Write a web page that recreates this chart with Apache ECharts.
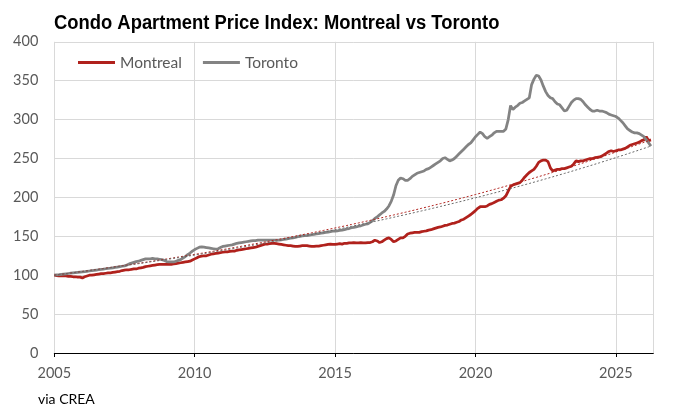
<!DOCTYPE html>
<html>
<head>
<meta charset="utf-8">
<script src="https://cdn.jsdelivr.net/npm/echarts@6/dist/echarts.min.js"></script>
<style>
html,body{margin:0;padding:0;background:#fff;}
#c{width:674px;height:417px;}
</style>
</head>
<body>
<div id="c"></div>
<script>
// Monthly index values, Jan 2005 .. Apr 2026
const startYear = 2005;
const montreal = [
  100, 99.5, 99, 99.5, 99, 99, 98.5, 98.5, 98, 98, 97.5, 97.5,
  96.5, 98, 99, 100, 100, 100.5, 101, 101.5, 102, 102, 102.5, 103,
  103, 103.5, 104, 104.5, 105, 106, 106.5, 107, 107, 107.5, 108, 108,
  109, 109.5, 110, 111, 111.5, 112, 112.5, 113, 113.5, 114, 114, 114,
  114, 114, 114, 114.5, 115, 115.5, 116, 116.5, 117, 117.5, 118, 119.5,
  121, 122.5, 124, 124.5, 125, 125, 126, 127, 127.5, 128, 128.5, 129,
  129.5, 130, 130, 130.5, 131, 131, 132, 132.5, 133, 133.5, 134, 134.5,
  135, 135.5, 136, 137, 138, 139, 140, 140, 140.5, 141, 141, 140.5,
  140, 139.5, 139, 138.5, 138, 138, 137.5, 137, 137, 137.5, 138, 138,
  138, 137.5, 137, 137, 137.5, 137.5, 138, 138.5, 139, 139.5, 140, 139.5,
  139.5, 140, 140.5, 140, 141, 141, 141.5, 141.5, 142, 141.5, 141.5, 142,
  141.5, 141.5, 142, 142, 143, 145, 144, 142, 143, 145, 147, 148,
  146, 143, 144, 146, 148, 148, 150, 153, 154, 154.5, 155, 155,
  155, 156, 156.5, 157, 158, 158.5, 159.5, 160.5, 161.5, 162, 163, 164,
  164.5, 165.5, 166.5, 167, 168, 169, 171, 172, 174, 176, 178, 180.5,
  183, 186, 188, 188, 188, 189, 191, 192, 193.5, 195, 196.5, 197,
  199, 202, 208, 214, 216, 217, 218, 219, 222, 226, 229, 232,
  234, 236, 240, 245, 247, 248, 248, 246, 238, 234, 235, 236,
  236, 237, 237, 238, 239, 240, 243, 247, 246, 247, 247, 248,
  249, 250, 250, 251, 251.5, 252, 253, 255, 257, 259, 260, 259,
  260, 261, 261, 262, 263, 265, 267, 268, 269, 270, 271, 273,
  274, 278, 273, 274
];
const toronto = [
  100, 100.3, 100.6, 101, 101.4, 101.8, 102.2, 102.6, 103, 103.4, 103.7, 104,
  104.3, 104.6, 105, 105.4, 105.8, 106.2, 106.6, 107, 107.4, 107.8, 108.3, 108.8,
  109, 109.5, 110, 110.5, 111, 111.5, 112, 113, 114.5, 115.5, 116.5, 117.5,
  118, 119, 120, 121, 121, 121, 121.5, 121, 121, 120.5, 120, 119,
  117.5, 117, 117, 117, 118, 119, 120, 122, 124, 126.5, 128.5, 131,
  133, 134.5, 136, 136.5, 136, 135.5, 135, 134.5, 134, 133.5, 134, 135.5,
  137, 137.5, 138, 138.5, 139, 140, 141, 141.5, 142, 142.5, 143, 143.5,
  144, 144.5, 144.5, 145, 145, 145, 145, 145, 145, 145, 145, 145,
  145, 145.5, 146, 146.5, 147, 147.5, 148, 148.5, 149.5, 150, 150.5, 151,
  151, 151.5, 152, 152.5, 153, 153.5, 154, 154.5, 155, 155.5, 156, 156.5,
  156.6, 157, 157.5, 158, 158.5, 159.5, 160, 161, 161.5, 162, 163, 163.5,
  164.5, 165.5, 166, 168, 170, 173, 175, 177.5, 180, 182, 185, 189,
  195, 203, 215, 222, 225, 224, 222, 222, 224, 227, 229, 231,
  232, 233, 234, 236, 237, 239, 241, 243, 245, 247, 250, 251,
  249, 247, 248, 250, 253, 256, 259, 262, 265, 268, 270, 274,
  278, 281, 284, 282, 278, 276, 278, 280, 283, 285, 285, 285,
  285, 288, 300, 318, 313, 316, 318, 321, 322, 324, 326, 328,
  345, 352, 357, 356, 351, 343, 336, 331, 328, 327, 323, 320,
  319, 315, 311, 312, 317, 322, 325, 327, 327, 326, 323, 319,
  316, 313, 311, 311, 312, 311, 311, 310, 309, 307, 306, 305,
  304, 302, 299, 296, 292, 288, 286, 284, 283, 283, 282, 280,
  278, 274, 270, 266
];
const seriesNames = ['Montreal', 'Toronto'];
const xTickYears = [2005, 2010, 2015, 2020, 2025];
const yTicks = [0, 50, 100, 150, 200, 250, 300, 350, 400];

function toPoints(arr) {
  return arr.map((v, i) => [startYear + i / 12, v]);
}
// constant-growth line from first to last value
function growthLine(arr) {
  const n = arr.length, a = arr[0], b = arr[n - 1];
  return arr.map((_, i) => [startYear + i / 12, a * Math.pow(b / a, i / (n - 1))]);
}

const RED = '#B0211C', GREY = '#838383';
const chart = echarts.init(document.getElementById('c'), null, {renderer: 'canvas'});
const labelFont = 'Lato, "Open Sans", sans-serif';
chart.setOption({
  animation: false,
  graphic: [{
    type: 'text', x: 54, y: 13, scaleX: 0.92,
    style: {text: 'Condo Apartment Price Index: Montreal vs Toronto',
      font: 'bold 20px "Liberation Sans", Arial, sans-serif', fill: '#000'}
  }, {
    type: 'text', left: 38, top: 392,
    style: {text: 'via CREA', font: '14px ' + labelFont, fill: '#000'}
  }],
  legend: {
    data: seriesNames,
    left: 78, top: 54.5, padding: 0,
    icon: 'rect', itemWidth: 37, itemHeight: 3, itemGap: 21,
    textStyle: {fontFamily: labelFont, fontSize: 15.5, color: '#595959'}
  },
  grid: {left: 54.3, right: 20.7, top: 41.8, bottom: 64, containLabel: false},
  xAxis: {
    type: 'value', min: xTickYears[0], max: startYear + 256 / 12, interval: 5,
    axisLine: {show: true, lineStyle: {color: '#000', width: 1}},
    axisTick: {show: true, length: 4, lineStyle: {color: '#000'}},
    axisLabel: {showMaxLabel: false, color: '#595959', fontFamily: labelFont, fontSize: 14.5, margin: 13,
      formatter: v => xTickYears.includes(v) ? String(v) : ''},
    splitLine: {show: true, lineStyle: {color: '#d9d9d9', width: 1}}
  },
  yAxis: {
    type: 'value', min: yTicks[0], max: yTicks[yTicks.length - 1], interval: 50,
    axisLine: {show: false}, axisTick: {show: false},
    axisLabel: {color: '#595959', fontFamily: labelFont, fontSize: 14.5, margin: 16},
    splitLine: {show: true, lineStyle: {color: '#d9d9d9', width: 1}}
  },
  series: [
    {name: seriesNames[0], type: 'line', data: toPoints(montreal), showSymbol: false,
     lineStyle: {color: RED, width: 2.75}, itemStyle: {color: RED}, z: 3},
    {name: seriesNames[1], type: 'line', data: toPoints(toronto), showSymbol: false,
     lineStyle: {color: GREY, width: 2.75}, itemStyle: {color: GREY}, z: 4},
    {name: 'Montreal trend', type: 'line', data: growthLine(montreal), showSymbol: false,
     lineStyle: {color: RED, width: 1, type: [2, 2]}, z: 5, silent: true},
    {name: 'Toronto trend', type: 'line', data: growthLine(toronto), showSymbol: false,
     lineStyle: {color: '#666', width: 1, type: [2, 2]}, z: 5, silent: true}
  ]
});
</script>
</body>
</html>
